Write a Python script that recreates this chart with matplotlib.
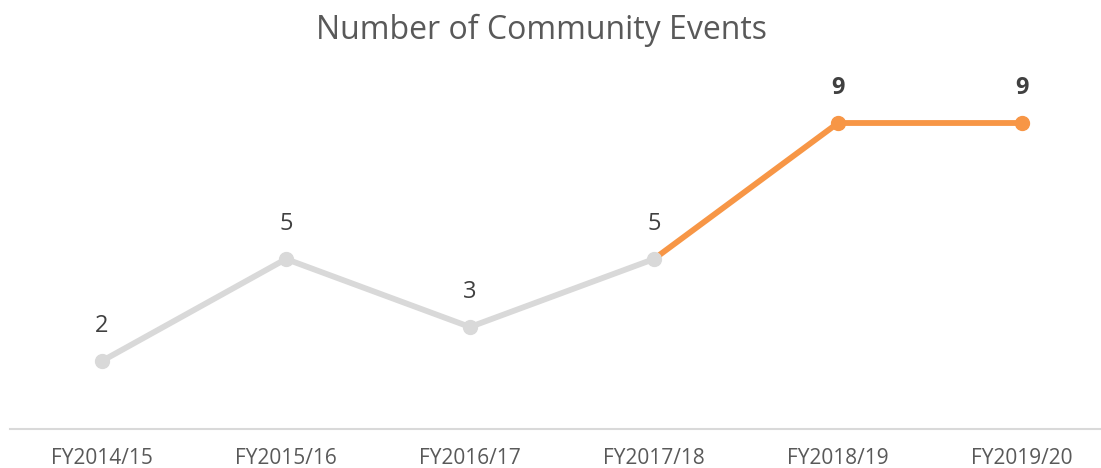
import numpy as np
import matplotlib.pyplot as plt

years = ['FY2014/15', 'FY2015/16', 'FY2016/17', 'FY2017/18', 'FY2018/19', 'FY2019/20']
events = [2, 5, 3, 5, 9, 9]
split = 3   # orange from this point on

grey = '#D9D9D9'
orange = '#F79646'

plt.rcParams['font.family'] = ['Open Sans', 'DejaVu Sans']

fig = plt.figure(figsize=(11.01, 4.68), dpi=100)
ax = fig.add_axes([10/1101, 39/468, 1104/1101, 340/468])

x = np.arange(len(years))
y = np.array(events, dtype=float)

# orange part first so the grey marker sits on top of it
ax.plot(x[split:], y[split:], color=orange, lw=4.2, solid_capstyle='round', zorder=2)
ax.plot(x[split+1:], y[split+1:], 'o', color=orange, ms=10, zorder=3)
ax.plot(x[:split+1], y[:split+1], color=grey, lw=4.2, marker='o', ms=10,
        solid_capstyle='round', zorder=4)

for i, v in enumerate(events):
    bold = i > split
    ax.annotate(str(v), (x[i], v), xytext=(0, 25), textcoords='offset points',
                ha='center', va='center', fontsize=17,
                color='#404040', fontweight='bold' if bold else 'normal')

ax.set_xlim(-0.5, len(years) - 0.5)
ax.set_ylim(0, 10)
ax.set_xticks(x)
ax.set_xticklabels(years, fontsize=15, color='#595959')
ax.tick_params(axis='x', length=0, pad=14)
ax.set_yticks([])

for s in ['top', 'right', 'left']:
    ax.spines[s].set_visible(False)
ax.spines['bottom'].set_color('#D9D9D9')
ax.spines['bottom'].set_linewidth(1.5)

fig.text(542/1101, 1 - 30/468, 'Number of Community Events', ha='center', va='center',
         fontsize=23, color='#595959')

fig.savefig('out.png', dpi=100)
